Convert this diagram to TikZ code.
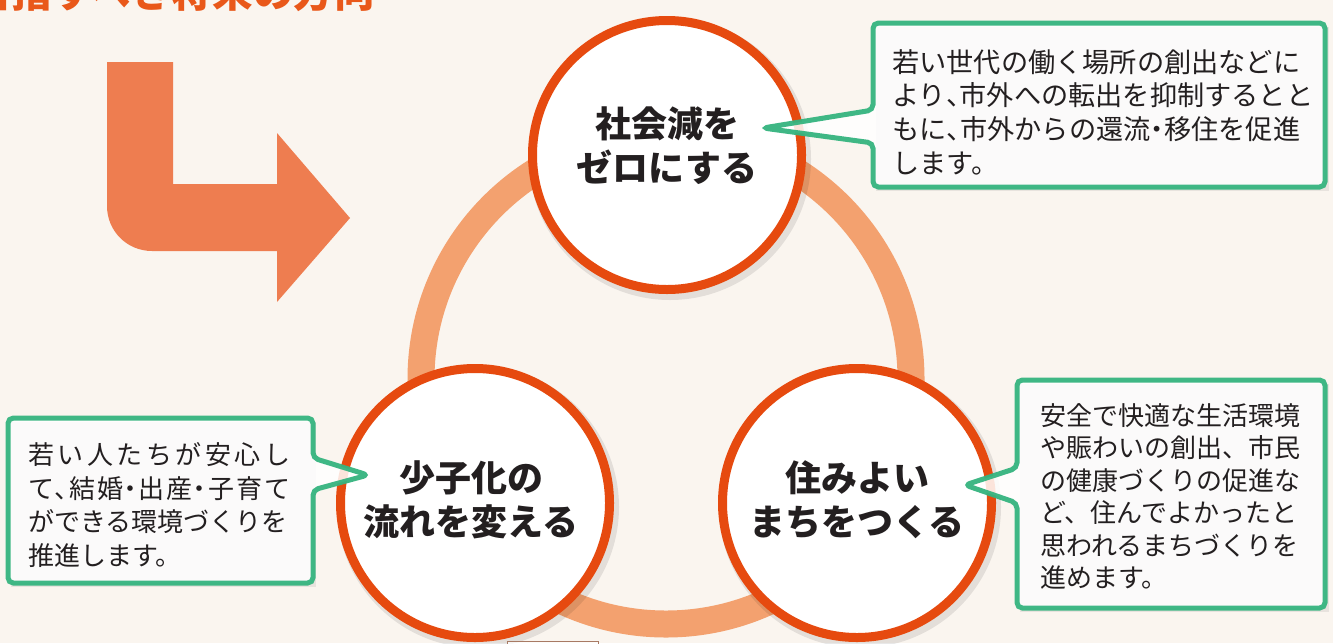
\documentclass[tikz,border=0pt]{standalone}
\usepackage{fontspec}
\newfontfamily\jp{Noto Sans CJK JP}
\definecolor{bg}{HTML}{FAF5EF}
\definecolor{arrowc}{HTML}{EE7D50}
\definecolor{titlec}{HTML}{E9581A}
\definecolor{ringc}{HTML}{F3A16F}
\definecolor{circc}{HTML}{E64A0F}
\definecolor{greenc}{HTML}{35B47F}
\definecolor{txt}{HTML}{231F20}
\definecolor{boxc}{HTML}{A87A64}
\newcommand{\jpcomma}{\makebox[0.5em][l]{、}}
\newcommand{\jpdot}{\makebox[0.5em][c]{・}}
\tikzset{
  ringnode/.style={circle, draw=circc, line width=6.75pt, fill=white, minimum size=201.75pt, inner sep=0pt},
  circtext/.style={align=center, text=txt, font=\jp\bfseries\fontsize{27}{33}\selectfont, inner sep=0pt},
  callout/.style={draw=greenc, line width=3.75pt, fill=white, fill opacity=0.85, draw opacity=0.95, rounded corners=4pt, line join=miter},
  callouttext/.style={anchor=north west, align=left, inner sep=0pt, text=txt},
  shadowc/.style={fill=black, opacity=0.09},
}
\begin{document}
\begin{tikzpicture}[x=0.75pt,y=-0.75pt]
\useasboundingbox (0,0) rectangle (1333,643);
\clip (0,0) rectangle (1333,643);
\fill[bg] (0,0) rectangle (1333,643);

% title (cut off at the top)
\node[anchor=base west, inner sep=0pt, text=titlec, font=\jp\bfseries\fontsize{30.5}{30}\selectfont] (title) at (-29,7) {目指すべき将来の方向};

% bent arrow
\fill[arrowc] (107,62) -- (173,62) -- (173,184) -- (277,184) -- (277,133) -- (350,218) -- (277,302) -- (277,251) -- (152,251)
  .. controls (127,251) and (107,231) .. (107,206) -- cycle;

% ring
\draw[ringc, line width=20.25pt] (666,379) circle [radius=245];

% circle shadows
\fill[shadowc] (670,159) circle [radius=141];
\fill[shadowc] (478,507) circle [radius=141];
\fill[shadowc] (860,507) circle [radius=141];

% circles
\node[ringnode] (c1) at (667,155) {};
\node[ringnode] (c2) at (475,503) {};
\node[ringnode] (c3) at (857,503) {};
\node[circtext] (t1) at (667,146) {社会減を\\ゼロにする};
\node[circtext] (t2) at (471,500) {少子化の\\流れを変える};
\node[circtext] (t3) at (857,500) {住みよい\\まちをつくる};

% callouts
\coordinate (p1) at (763,128);
\coordinate (p2) at (368,475);
\coordinate (p3) at (965,485);
\fill[black, opacity=0.07] (876,27) -- (1329,27) -- (1329,191) -- (876,191) -- cycle;
\fill[black, opacity=0.07] (11,422) -- (316,422) -- (316,587) -- (11,587) -- cycle;
\fill[black, opacity=0.07] (1020,384) -- (1329,384) -- (1329,612) -- (1020,612) -- cycle;

\path[callout] (873,110) -- (873,23) -- (1325,23) -- (1325,187) -- (873,187) -- (873,143) -- (p1) -- cycle;
\path[callout] (313,458) -- (313,418) -- (8,418) -- (8,583) -- (313,583) -- (313,490) -- (p2) -- cycle;
\path[callout] (1017,468) -- (1017,380) -- (1325,380) -- (1325,608) -- (1017,608) -- (1017,503) -- (p3) -- cycle;

\node[callouttext, font=\jp\fontsize{20.4}{25.3}\selectfont] (n1) at (892,49)
  {若い世代の働く場所の創出などに\\より\jpcomma 市外への転出を抑制するとと\\もに\jpcomma 市外からの還流\jpdot 移住を促進\\します。};
\node[callouttext, font=\jp\fontsize{19.5}{25.3}\selectfont] (n2) at (28,442)
  {\makebox[196.5pt][s]{若\hfill い\hfill 人\hfill た\hfill ち\hfill が\hfill 安\hfill 心\hfill し}\\
   \makebox[196.5pt][s]{て\jpcomma\hfill 結\hfill 婚\jpdot\hfill 出\hfill 産\jpdot\hfill 子\hfill 育\hfill て}\\
   ができる環境づくりを\\推進します。};
\node[callouttext, font=\jp\fontsize{19.5}{24.4}\selectfont] (n3) at (1040,403)
  {安全で快適な生活環境\\や賑わいの創出、市民\\の健康づくりの促進な\\ど、住んでよかったと\\思われるまちづくりを\\進めます。};

% partial box at the bottom edge
\node[draw=boxc, line width=1pt, fill=white, fill opacity=0.7, minimum width=68.25pt, minimum height=15pt, inner sep=0pt, anchor=north west] (bb) at (507,641) {};
\end{tikzpicture}
\end{document}
